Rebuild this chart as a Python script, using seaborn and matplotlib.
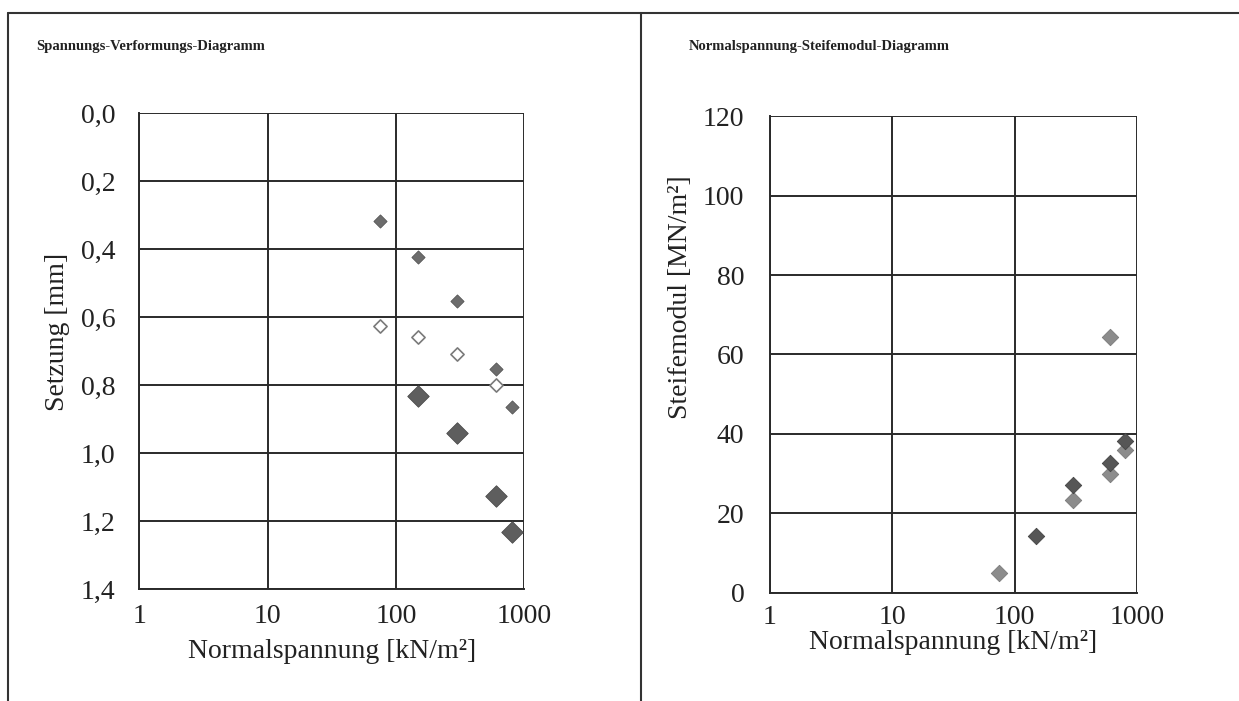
import pandas as pd
import seaborn as sns
import matplotlib.pyplot as plt
from matplotlib.lines import Line2D

# Spannungs-Verformungs-Diagramm (left)
x_small = [75, 150, 300, 600, 800]
y_small = [0.317, 0.423, 0.552, 0.754, 0.866]
x_open = [75, 150, 300, 600]
y_open = [0.626, 0.658, 0.709, 0.801]
x_large = [150, 300, 600, 800]
y_large = [0.832, 0.942, 1.126, 1.232]

# Normalspannung-Steifemodul-Diagramm (right)
x_dark = [150, 300, 600, 800]
e_dark = [14.3, 27.2, 32.7, 38.2]
x_mid = [75, 300, 600, 800]
e_mid = [5.0, 23.3, 29.8, 36.0]
x_top = [600]
e_top = [64.4]

x_ticks = [1, 10, 100, 1000]
x_ticklabels = ['1', '10', '100', '1000']
y1_ticks = [0.0, 0.2, 0.4, 0.6, 0.8, 1.0, 1.2, 1.4]
y1_ticklabels = ['0,0', '0,2', '0,4', '0,6', '0,8', '1,0', '1,2', '1,4']
y2_ticks = [0, 20, 40, 60, 80, 100, 120]
y2_ticklabels = ['0', '20', '40', '60', '80', '100', '120']

sns.set_style('white')
plt.rcParams['font.family'] = ['Liberation Serif', 'DejaVu Serif']

fig = plt.figure(figsize=(12.39, 7.01), dpi=100)
ax1 = fig.add_axes([0.1124, 0.1598, 0.3107, 0.679])
ax2 = fig.add_axes([0.6215, 0.1545, 0.296, 0.6796])

grid_col = '#2a2a2a'
text_col = '#222222'


def style_axis(ax, xpad, ypad):
    ax.set_xscale('log')
    ax.set_xlim(1, 1000)
    ax.set_xticks(x_ticks, x_ticklabels)
    ax.minorticks_off()
    ax.grid(True, which='major', color=grid_col, linewidth=1.4)
    for side in ['left', 'bottom']:
        ax.spines[side].set_color(grid_col)
        ax.spines[side].set_linewidth(1.4)
    for side in ['right', 'top']:
        ax.spines[side].set_visible(False)
    ax.tick_params(axis='both', direction='out', length=5, width=1.4,
                   color=grid_col, labelsize=20, labelcolor=text_col)
    ax.tick_params(axis='x', pad=xpad)
    ax.tick_params(axis='y', pad=ypad)
    ax.set_axisbelow(True)


# left panel
df_small = pd.DataFrame({'x': x_small, 'y': y_small})
df_open = pd.DataFrame({'x': x_open, 'y': y_open})
df_large = pd.DataFrame({'x': x_large, 'y': y_large})
sns.scatterplot(data=df_small, x='x', y='y', ax=ax1, marker='D', s=45,
                color='#6c6c6c', edgecolor='#555555', linewidth=0.6, zorder=3)
sns.scatterplot(data=df_open, x='x', y='y', ax=ax1, marker='D', s=45,
                facecolor='white', edgecolor='#7a7a7a', linewidth=1.2, zorder=3)
sns.scatterplot(data=df_large, x='x', y='y', ax=ax1, marker='D', s=120,
                color='#5e5e5e', edgecolor='#4a4a4a', linewidth=0.6, zorder=3)
style_axis(ax1, 6, 12)
ax1.set_ylim(1.4, 0.0)
ax1.set_yticks(y1_ticks, y1_ticklabels)
ax1.set_xlabel('Normalspannung [kN/m²]', fontsize=20, labelpad=7, color=text_col)
ax1.set_ylabel('Setzung [mm]', fontsize=20, color=text_col)
ax1.yaxis.set_label_coords(-0.18, 0.54)

# right panel
df_dark = pd.DataFrame({'x': x_dark, 'y': e_dark})
df_mid = pd.DataFrame({'x': x_mid, 'y': e_mid})
df_top = pd.DataFrame({'x': x_top, 'y': e_top})
sns.scatterplot(data=df_mid, x='x', y='y', ax=ax2, marker='D', s=70,
                color='#8c8c8c', edgecolor='#7a7a7a', linewidth=0.6, zorder=3)
sns.scatterplot(data=df_dark, x='x', y='y', ax=ax2, marker='D', s=70,
                color='#565656', edgecolor='#444444', linewidth=0.6, zorder=4)
sns.scatterplot(data=df_top, x='x', y='y', ax=ax2, marker='D', s=70,
                color='#8c8c8c', edgecolor='#7a7a7a', linewidth=0.6, zorder=3)
style_axis(ax2, 4, 13.5)
ax2.set_ylim(0, 120)
ax2.set_yticks(y2_ticks, y2_ticklabels)
ax2.set_xlabel('Normalspannung [kN/m²]', fontsize=20, labelpad=0, color=text_col)
ax2.set_ylabel('Steifemodul [MN/m²]', fontsize=20, color=text_col)
ax2.yaxis.set_label_coords(-0.21, 0.62)

# panel titles
fig.text(0.029, 0.933, 'Spannungs-Verformungs-Diagramm', fontsize=10.5,
         fontweight='bold', color=text_col, va='center')
fig.text(0.556, 0.933, 'Normalspannung-Steifemodul-Diagramm', fontsize=10.5,
         fontweight='bold', color=text_col, va='center')

# frame around the panels
top = 1 - 13 / 701
fig.add_artist(Line2D([0.0065, 1.0], [top, top], color='#333333', lw=1.5))
fig.add_artist(Line2D([0.0065, 0.0065], [0, top], color='#333333', lw=1.5))
fig.add_artist(Line2D([0.5174, 0.5174], [0, top], color='#333333', lw=1.5))

plt.savefig('out.png', dpi=100)
